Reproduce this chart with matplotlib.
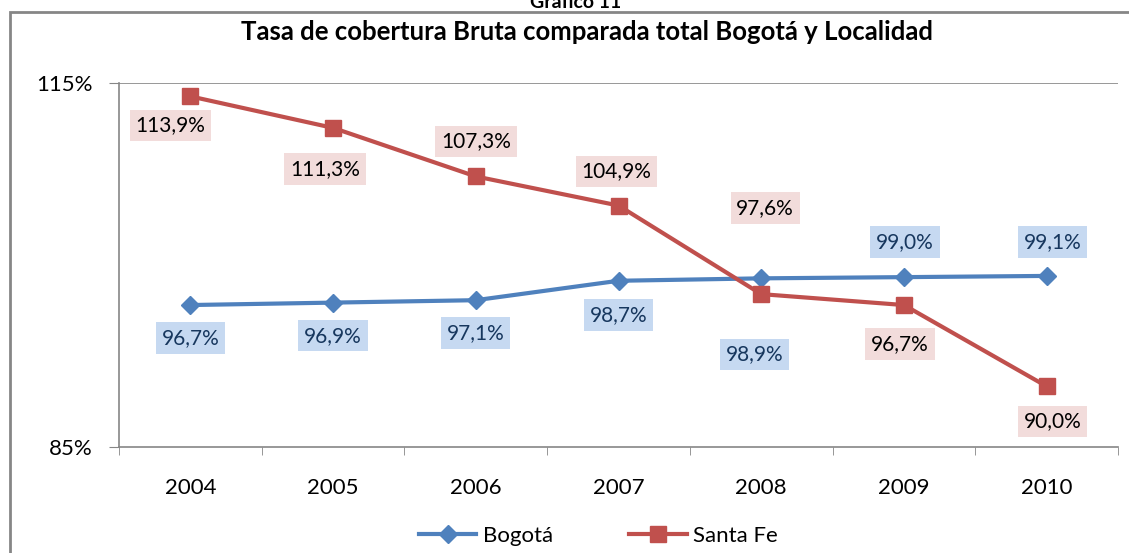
import matplotlib.pyplot as plt
from matplotlib.patches import Rectangle

plt.rcParams['font.family'] = ['Lato', 'DejaVu Sans']

# datos
anios = ['2004', '2005', '2006', '2007', '2008', '2009', '2010']
bogota = [96.7, 96.9, 97.1, 98.7, 98.9, 99.0, 99.1]
santa_fe = [113.9, 111.3, 107.3, 104.9, 97.6, 96.7, 90.0]

# desplazamiento de las etiquetas (pixeles, como quedaron en el original)
off_bogota = [(0, -33), (0, -33), (0, -33), (0, -34), (-7, -76), (1, 35), (6, 34)]
off_santa_fe = [(-20, -29), (-8, -41), (0, 35), (-2, 34), (4, 86), (-4, -39), (6, -35)]

azul = '#4F81BD'
rojo = '#C0504D'
gris = '#868686'

fig = plt.figure(figsize=(11.29, 5.53), dpi=100)
ax = fig.add_axes([119 / 1129, 1 - 447 / 553, 999 / 1129, 364 / 553])

x = list(range(len(anios)))
ax.plot(x, bogota, color=azul, lw=3, marker='D', ms=9, label='Bogotá')
ax.plot(x, santa_fe, color=rojo, lw=3, marker='s', ms=12, label='Santa Fe')

def fmt(v):
    return f'{v:.1f}%'.replace('.', ',')

for i in x:
    ax.annotate(fmt(bogota[i]), (i, bogota[i]), xytext=off_bogota[i], textcoords='offset pixels',
                ha='center', va='center', fontsize=15, color='#17375E',
                bbox=dict(boxstyle='square,pad=0.28', fc='#C6D9F1', ec='none'))
    ax.annotate(fmt(santa_fe[i]), (i, santa_fe[i]), xytext=off_santa_fe[i], textcoords='offset pixels',
                ha='center', va='center', fontsize=15, color='black',
                bbox=dict(boxstyle='square,pad=0.28', fc='#F2DCDB', ec='none'))

ax.set_xlim(-0.5, 6.5)
ax.set_ylim(85, 115)
ax.set_yticks([85, 115])
ax.set_yticklabels(['85%', '115%'], fontsize=16)
ax.set_xticks(x)
ax.set_xticklabels(anios, fontsize=16)
ax.set_xticks([i - 0.5 for i in range(len(anios) + 1)], minor=True)
ax.tick_params(axis='x', which='major', length=0, pad=22)
ax.tick_params(axis='x', which='minor', length=6, color=gris, direction='out')
ax.tick_params(axis='y', length=7, color=gris, pad=12)
ax.axhline(115, color=gris, lw=1.2)
for s in ['top', 'right']:
    ax.spines[s].set_visible(False)
for s in ['left', 'bottom']:
    ax.spines[s].set_color(gris)
    ax.spines[s].set_linewidth(1.2)

fig.text(0.52, 1 - 32 / 553, 'Tasa de cobertura Bruta comparada total Bogotá y Localidad',
         ha='center', va='center', fontsize=18.5, weight='bold')
fig.text(0.51, 1 - 8 / 553, 'Gráfico 11', ha='center', va='baseline', fontsize=14, weight='bold')

# marco exterior
fig.patches.append(Rectangle((10 / 1129, -0.1), 1.2, 1.1 - 12 / 553, transform=fig.transFigure,
                             fill=False, ec=gris, lw=2))

fig.legend(loc='center', bbox_to_anchor=(0.53, 1 - 536 / 553), ncol=2, frameon=False,
           fontsize=16, handlelength=2.6, columnspacing=3.4, handletextpad=0.3)

fig.savefig('out.png', dpi=100)
